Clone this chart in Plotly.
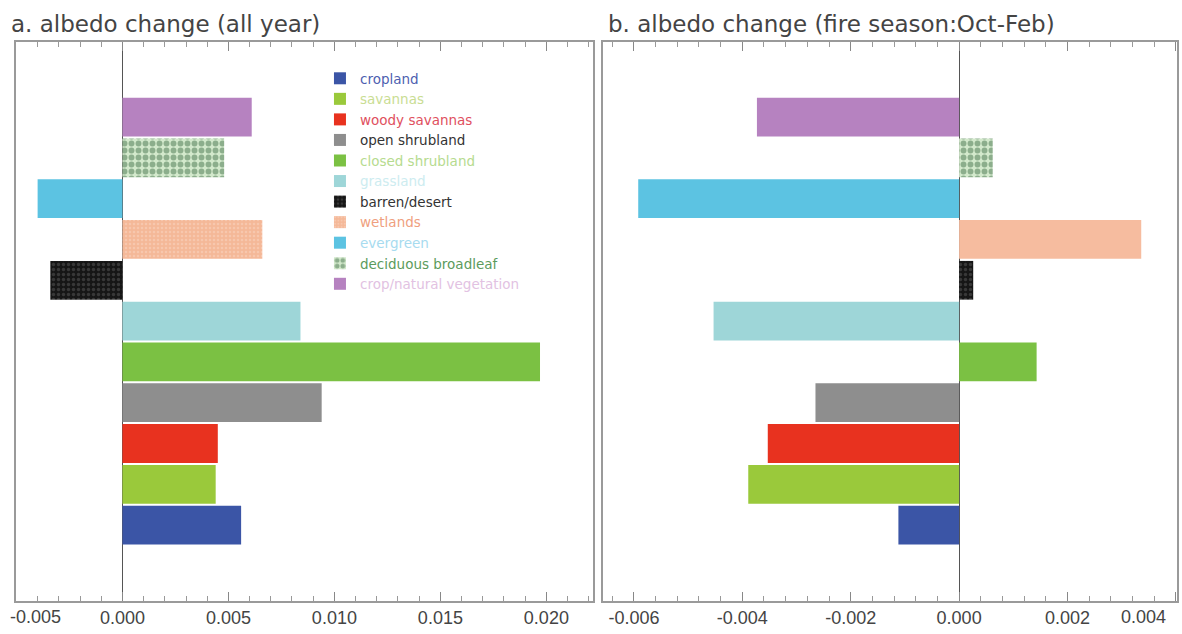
import plotly.graph_objects as go

# Land cover classes, listed bottom to top
categories = [
    "cropland", "savannas", "woody savannas", "open shrubland",
    "closed shrubland", "grassland", "barren/desert", "wetlands",
    "evergreen", "deciduous broadleaf", "crop/natural vegetation",
]

# albedo change
albedo_all_year = [0.0056, 0.0044, 0.0045, 0.0094, 0.0197, 0.0084,
                   -0.0034, 0.0066, -0.0040, 0.0048, 0.0061]
albedo_fire_season = [-0.00112, -0.00389, -0.00353, -0.00265, 0.00143, -0.00453,
                      0.00026, 0.00336, -0.00592, 0.00062, -0.00373]

# tick values / labels of the two x axes
ticks_all_year = [-0.005, 0.0, 0.005, 0.010, 0.015, 0.020]
labels_all_year = ["-0.005", "0.000", "0.005", "0.010", "0.015", "0.020"]
ticks_fire = [-0.006, -0.004, -0.002, 0.0, 0.002, 0.004]
labels_fire = ["-0.006", "-0.004", "-0.002", "0.000", "0.002", "0.004"]

bar_colors = ["#3b55a6", "#9ac93b", "#e8321f", "#8e8e8e", "#7bc143", "#9ed6d8",
              "#1c1c1c", "#f6bc9f", "#5cc3e2", "#e4f1df", "#b682c0"]
label_colors = ["#4e5fb0", "#c9dd93", "#e0505e", "#333333", "#b6db8f", "#cdecf0",
                "#333333", "#ef9f80", "#a7dbef", "#5c9b5c", "#e2c2e2"]

tick_font = dict(family="Liberation Sans, Arial, sans-serif", size=18, color="#444444")

# the outermost labels sit at the frame edge; they are drawn as annotations
# nudged inward (as in the original) instead of as regular tick labels
ticktext_all_year = [""] + labels_all_year[1:]
ticktext_fire = labels_fire[:-1] + [""]


def bar_pattern(cat, panel):
    if cat == "barren/desert":
        return dict(shape=".", fgcolor="#5a5a5a", bgcolor="#161616", size=5, solidity=0.35)
    if cat == "wetlands" and panel == 1:
        return dict(shape=".", fgcolor="#f9d6c4", bgcolor="#f4b898", size=4, solidity=0.3)
    if cat == "deciduous broadleaf":
        return dict(shape=".", fgcolor="#46734c", bgcolor="#d3e9cc", size=7, solidity=0.55)
    return None


fig = go.Figure()

for i, cat in enumerate(categories):
    name = f"<span style='color:{label_colors[i]}'>{cat}</span>"
    fig.add_trace(go.Bar(
        y=[cat], x=[albedo_all_year[i]], orientation="h", name=name,
        marker=dict(color=bar_colors[i], line=dict(width=0), pattern=bar_pattern(cat, 1)),
        width=0.95, legendgroup=cat, xaxis="x", yaxis="y",
    ))
    fig.add_trace(go.Bar(
        y=[cat], x=[albedo_fire_season[i]], orientation="h", name=name,
        marker=dict(color=bar_colors[i], line=dict(width=0), pattern=bar_pattern(cat, 2)),
        width=0.95, legendgroup=cat, showlegend=False, xaxis="x2", yaxis="y2",
    ))

xaxis_common = dict(
    showgrid=False, showline=True, linecolor="#9a9a9a", linewidth=1.5, mirror="ticks",
    ticks="inside", ticklen=9, tickcolor="#888888", tickwidth=1,
    zeroline=True, zerolinecolor="#555555", zerolinewidth=1.2,
    tickmode="array", tickfont=tick_font, automargin=False,
)
yaxis_common = dict(
    type="category", categoryorder="array", categoryarray=categories,
    range=[-1.86, 11.84], showticklabels=False, ticks="", showgrid=False,
    showline=True, linecolor="#9a9a9a", linewidth=1.5, mirror=True, zeroline=False,
    automargin=False,
)

title_font = dict(family="DejaVu Sans", size=23, color="#444444")

fig.update_layout(
    width=1182, height=634,
    margin=dict(l=0, r=0, t=42, b=33, autoexpand=False),
    paper_bgcolor="white", plot_bgcolor="white",
    barmode="overlay", hovermode=False,
    xaxis=dict(domain=[16 / 1182, 593 / 1182], range=[-0.00502, 0.0222],
               tickvals=ticks_all_year, ticktext=ticktext_all_year,
               minor=dict(ticks="inside", ticklen=5, tickcolor="#999999", dtick=0.001),
               **xaxis_common),
    xaxis2=dict(domain=[603 / 1182, 1177 / 1182], range=[-0.00657, 0.00402],
                tickvals=ticks_fire, ticktext=ticktext_fire, anchor="y2",
                minor=dict(ticks="inside", ticklen=5, tickcolor="#999999", dtick=0.0004),
                **xaxis_common),
    yaxis=dict(anchor="x", **yaxis_common),
    yaxis2=dict(anchor="x2", **yaxis_common),
    legend=dict(x=0.2707, y=0.9624, xanchor="left", yanchor="top",
                traceorder="normal", bgcolor="rgba(0,0,0,0)",
                font=dict(family="DejaVu Sans", size=13.5)),
    annotations=[
        dict(text="a. albedo change (all year)", xref="paper", yref="paper",
             x=0.008, y=1.032, xanchor="left", yanchor="middle", showarrow=False,
             font=title_font),
        dict(text="b. albedo change (fire season:Oct-Feb)", xref="paper", yref="paper",
             x=0.513, y=1.032, xanchor="left", yanchor="middle", showarrow=False,
             font=title_font),
        dict(text=labels_all_year[0], xref="x", yref="paper", x=ticks_all_year[0], y=0,
             xanchor="center", yanchor="top", xshift=19, yshift=-4, showarrow=False,
             font=tick_font),
        dict(text=labels_fire[-1], xref="x2", yref="paper", x=ticks_fire[-1], y=0,
             xanchor="center", yanchor="top", xshift=-32, yshift=-4, showarrow=False,
             font=tick_font),
    ],
)

# the page body has a default 8px margin; drop it so the figure sits at 0,0
fig.write_html("out.html", config={"displayModeBar": False},
               post_script="document.body.style.margin = '0';")
